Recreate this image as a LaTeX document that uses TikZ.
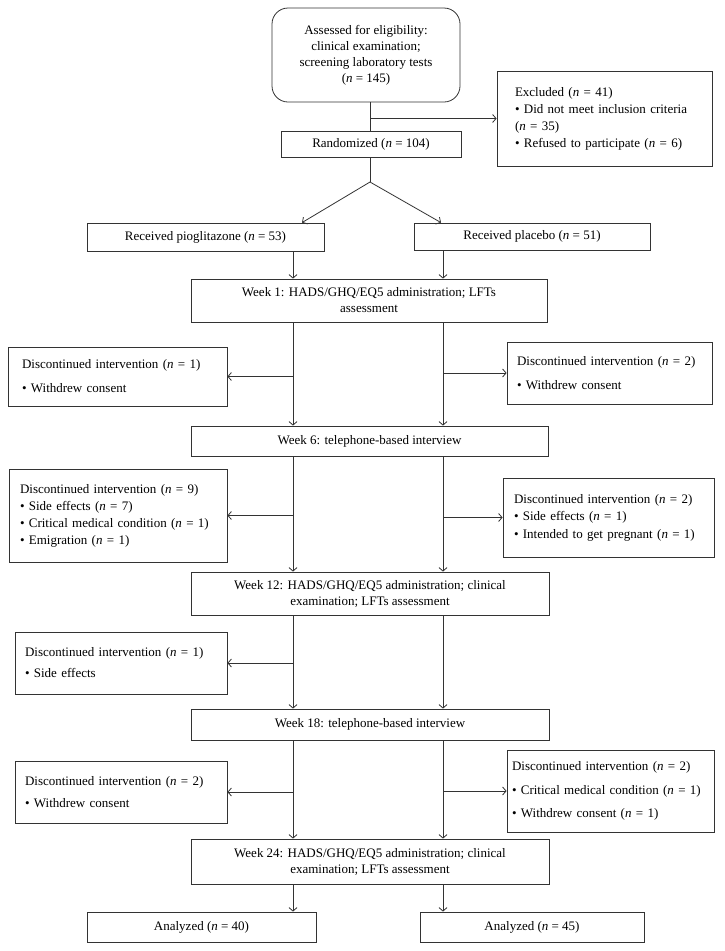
\documentclass[tikz,border=0pt]{standalone}
\usepackage{fontspec}
\setmainfont{Liberation Serif}
\usetikzlibrary{arrows.meta}
\newcommand{\nn}{\textit{n}}
\begin{document}
\begin{tikzpicture}[x=1pt,y=-1pt,
  box/.style={draw=black!80, line width=0.8pt, inner sep=0pt, align=center,
    font=\fontsize{13}{16}\selectfont},
  lbox/.style={box, align=left},
  arr/.style={draw=black!80, line width=0.8pt, -{Straight Barb[length=3.5pt,width=8pt]}},
  ln/.style={draw=black!80, line width=0.8pt}]
\useasboundingbox (0,0) rectangle (725,951);

\coordinate (cM) at (370,0);
\coordinate (cL) at (293,0);
\coordinate (cR) at (443,0);

\node[box, rounded corners=16pt, minimum width=188pt, minimum height=94pt] (T) at (366,55)
  {Assessed for eligibility:\\clinical examination;\\screening laboratory tests\\(\nn{} = 145)};
\node[box, minimum width=180pt, minimum height=26pt] (R) at (371,144) {Randomized (\nn{} = 104)};
\node[lbox, minimum width=215pt, minimum height=95pt, text width=179pt,
  font=\fontsize{13}{17}\selectfont] (E) at (604.5,118.5)
  {Excluded (\nn{} = 41)\\• Did not meet inclusion criteria\\(\nn{} = 35)\\• Refused to participate (\nn{} = 6)};

\node[box, minimum width=237pt, minimum height=28pt] (P) at (205.5,237) {Received pioglitazone (\nn{} = 53)};
\node[box, minimum width=236pt, minimum height=27pt] (Q) at (532,236.5) {Received placebo (\nn{} = 51)};

\node[box, minimum width=356pt, minimum height=43pt] (W1) at (369,300.5)
  {Week 1: HADS/GHQ/EQ5 administration; LFTs\\assessment};
\node[lbox, minimum width=219pt, minimum height=59pt, text width=191pt] (L1) at (117.5,376.5)
  {Discontinued intervention (\nn{} = 1)\\[8pt]• Withdrew consent};
\node[lbox, minimum width=205pt, minimum height=62pt, text width=185pt] (R1) at (609.5,373)
  {Discontinued intervention (\nn{} = 2)\\[8pt]• Withdrew consent};

\node[box, minimum width=357pt, minimum height=30pt] (W6) at (369.5,441)
  {Week 6: telephone-based interview};
\node[lbox, minimum width=218pt, minimum height=93pt, text width=196pt,
  font=\fontsize{13}{17}\selectfont] (L2) at (118,515.5)
  {Discontinued intervention (\nn{} = 9)\\• Side effects (\nn{} = 7)\\• Critical medical condition (\nn{} = 1)\\• Emigration (\nn{} = 1)};
\node[lbox, minimum width=211pt, minimum height=79pt, text width=189pt,
  font=\fontsize{13}{17.5}\selectfont] (R2) at (608.5,517.5)
  {Discontinued intervention (\nn{} = 2)\\• Side effects (\nn{} = 1)\\• Intended to get pregnant (\nn{} = 1)};

\node[box, minimum width=358pt, minimum height=43pt] (W12) at (370,593.5)
  {Week 12: HADS/GHQ/EQ5 administration; clinical\\examination; LFTs assessment};
\node[lbox, minimum width=212pt, minimum height=62pt, text width=192pt] (L3) at (121,663)
  {Discontinued intervention (\nn{} = 1)\\[5pt]• Side effects};

\node[box, minimum width=358pt, minimum height=31pt] (W18) at (370,724.5)
  {Week 18: telephone-based interview};
\node[lbox, minimum width=212pt, minimum height=62pt, text width=192pt] (L4) at (121,792)
  {Discontinued intervention (\nn{} = 2)\\[6pt]• Withdrew consent};
\node[lbox, minimum width=207pt, minimum height=82pt, text width=197pt] (R4) at (610.5,791)
  {Discontinued intervention (\nn{} = 2)\\[7.5pt]• Critical medical condition (\nn{} = 1)\\[7.5pt]• Withdrew consent (\nn{} = 1)};

\node[box, minimum width=358pt, minimum height=45pt] (W24) at (370,861.5)
  {Week 24: HADS/GHQ/EQ5 administration; clinical\\examination; LFTs assessment};
\node[box, minimum width=229pt, minimum height=30pt] (A1) at (201.5,927) {Analyzed (\nn{} = 40)};
\node[box, minimum width=224pt, minimum height=30pt] (A2) at (532,927) {Analyzed (\nn{} = 45)};

% top part
\draw[ln] (T.south -| cM) -- (R.north -| cM);
\draw[arr] (E.west -| cM) -- (E.west);
\coordinate (split) at (370,182);
\draw[ln] (R.south -| cM) -- (split);
\draw[arr] (split) -- ([xshift=9pt]P.north -| cL);
\draw[arr] (split) -- ([xshift=-2pt]Q.north -| cR);
\draw[arr] (P.south -| cL) -- (W1.north -| cL);
\draw[arr] (Q.south -| cR) -- (W1.north -| cR);

% columns
\draw[arr] (W1.south -| cL) -- (W6.north -| cL);
\draw[arr] (W1.south -| cR) -- (W6.north -| cR);
\draw[arr] (W6.south -| cL) -- (W12.north -| cL);
\draw[arr] (W6.south -| cR) -- (W12.north -| cR);
\draw[arr] (W12.south -| cL) -- (W18.north -| cL);
\draw[arr] (W12.south -| cR) -- (W18.north -| cR);
\draw[arr] (W18.south -| cL) -- (W24.north -| cL);
\draw[arr] (W18.south -| cR) -- (W24.north -| cR);
\draw[arr] (W24.south -| cL) -- (A1.north -| cL);
\draw[arr] (W24.south -| cR) -- (A2.north -| cR);

% side arrows
\draw[arr] (L1.east -| cL) -- (L1.east);
\draw[arr] (R1.west -| cR) -- (R1.west);
\draw[arr] (L2.east -| cL) -- (L2.east);
\draw[arr] (R2.west -| cR) -- (R2.west);
\draw[arr] (L3.east -| cL) -- (L3.east);
\draw[arr] (L4.east -| cL) -- (L4.east);
\draw[arr] (R4.west -| cR) -- (R4.west);
\end{tikzpicture}
\end{document}
